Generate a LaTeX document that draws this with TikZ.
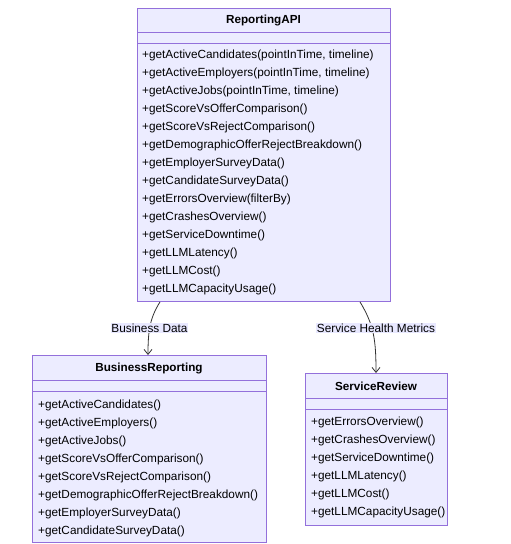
\documentclass[tikz,border=0pt]{standalone}
\usepackage{fontspec}
\setmainfont{Liberation Sans}
\usetikzlibrary{arrows.meta}
\definecolor{boxfill}{HTML}{ECECFF}
\definecolor{boxdraw}{HTML}{9370DB}
\definecolor{edgecol}{HTML}{333333}
\definecolor{lblbg}{HTML}{E8E8FF}
\tikzset{
  umlbox/.style={draw=boxdraw, fill=boxfill, line width=0.9pt, inner sep=0pt, anchor=north west},
  divline/.style={draw=boxdraw, line width=0.9pt},
  meth/.style={anchor=west, inner sep=0pt, font=\fontsize{11.8}{14}\selectfont, text=black},
  ttl/.style={inner sep=0pt, font=\fontsize{11.7}{14}\selectfont\bfseries, text=black},
  conn/.style={draw=edgecol, line width=0.8pt, -{Straight Barb[length=5pt,width=8pt]}},
  elabel/.style={fill=lblbg, inner xsep=0.5pt, inner ysep=1pt, font=\fontsize{11.8}{14}\selectfont, text=black}
}
\begin{document}
\begin{tikzpicture}[x=1pt,y=-1pt]
\useasboundingbox (0,0) rectangle (511,544);
% ReportingAPI
\node[umlbox, minimum width=253pt, minimum height=293pt] (api) at (137,8) {};
\draw[divline] (137,32) -- (390,32);
\draw[divline] (137,43) -- (390,43);
\node[ttl] (apit) at (263.5,20) {ReportingAPI};
\foreach \t [count=\i from 0] in {
 {+getActiveCandidates(pointInTime, timeline)},
 {+getActiveEmployers(pointInTime, timeline)},
 {+getActiveJobs(pointInTime, timeline)},
 {+getScoreVsOfferComparison()},
 {+getScoreVsRejectComparison()},
 {+getDemographicOfferRejectBreakdown()},
 {+getEmployerSurveyData()},
 {+getCandidateSurveyData()},
 {+getErrorsOverview(filterBy)},
 {+getCrashesOverview()},
 {+getServiceDowntime()},
 {+getLLMLatency()},
 {+getLLMCost()},
 {+getLLMCapacityUsage()}}
 \node[meth] (apim\i) at (142,55+18*\i) {\t};
% BusinessReporting
\node[umlbox, minimum width=234pt, minimum height=187pt] (br) at (32,355) {};
\draw[divline] (32,380) -- (266,380);
\draw[divline] (32,391) -- (266,391);
\node[ttl] (brt) at (149,368) {BusinessReporting};
\foreach \t [count=\i from 0] in {
 {+getActiveCandidates()},
 {+getActiveEmployers()},
 {+getActiveJobs()},
 {+getScoreVsOfferComparison()},
 {+getScoreVsRejectComparison()},
 {+getDemographicOfferRejectBreakdown()},
 {+getEmployerSurveyData()},
 {+getCandidateSurveyData()}}
 \node[meth] (brm\i) at (38,405+18*\i) {\t};
% ServiceReview
\node[umlbox, minimum width=142pt, minimum height=152pt] (sr) at (305,373) {};
\draw[divline] (305,398) -- (447,398);
\draw[divline] (305,409) -- (447,409);
\node[ttl] (srt) at (376,386) {ServiceReview};
\foreach \t [count=\i from 0] in {
 {+getErrorsOverview()},
 {+getCrashesOverview()},
 {+getServiceDowntime()},
 {+getLLMLatency()},
 {+getLLMCost()},
 {+getLLMCapacityUsage()}}
 \node[meth] (srm\i) at (311,422+18*\i) {\t};
% connectors
\coordinate (a1) at ([xshift=23pt]api.south west);
\coordinate (b1) at ([xshift=116pt]br.north west);
\coordinate (a2) at ([xshift=223pt]api.south west);
\coordinate (b2) at ([xshift=71pt]sr.north west);
\draw[conn] (a1) .. controls (150,318) and (148,330) .. (b1);
\draw[conn] (a2) .. controls (374,325) and (376,340) .. (b2);
\node[elabel] (l1) at (149.5,328) {Business Data};
\node[elabel] (l2) at (376,328) {Service Health Metrics};
\end{tikzpicture}
\end{document}
